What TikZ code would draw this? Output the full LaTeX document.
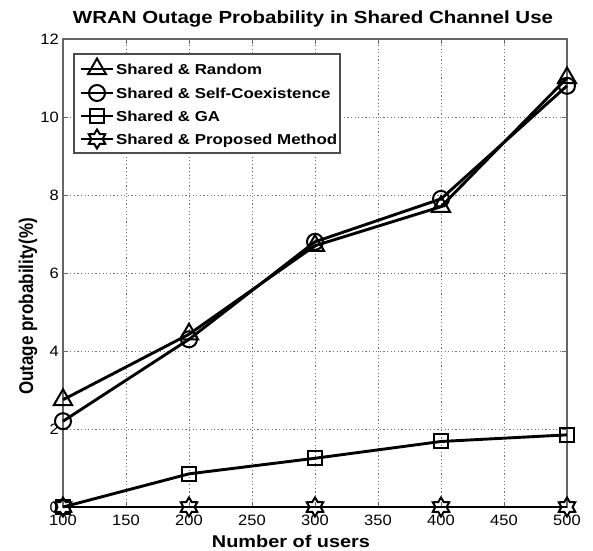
\documentclass[tikz,border=0pt]{standalone}
\usepackage{fontspec}
\usepackage{graphicx}
\setmainfont{Liberation Sans}
\usetikzlibrary{shapes.geometric}
\newcommand{\hsc}[2]{\scalebox{#1}[1]{#2}}
\newcommand{\vsc}[2]{\scalebox{1}[#1]{#2}}
\begin{document}
\begin{tikzpicture}[x=1pt,y=1pt,
  axisbox/.style={draw=black!60, line width=1.1pt},
  gridline/.style={draw=black!55, line width=0.9pt, dash pattern=on 1.2pt off 2.4pt},
  tickmark/.style={draw=black!60, line width=1pt},
  plotline/.style={draw=black, line width=2.9pt, line join=round},
  mk/.style={draw=black, line width=2pt, inner sep=0pt},
  tri/.style={mk, regular polygon, regular polygon sides=3, minimum size=21pt},
  circ/.style={mk, circle, minimum size=16pt},
  sq/.style={mk, rectangle, minimum size=14pt},
  hexa/.style={mk, star, star points=6, star point ratio=1.7, minimum size=19pt},
  ticklab/.style={font=\fontsize{15}{17}\selectfont, inner sep=0pt},
  titlefont/.style={font=\fontsize{17.5}{20}\selectfont\bfseries, inner sep=0pt},
  labfont/.style={font=\fontsize{17}{20}\selectfont\bfseries, inner sep=0pt},
  legtext/.style={font=\fontsize{14.4}{17}\selectfont\bfseries, inner sep=0pt, anchor=base west},
  legbox/.style={draw=black!70, fill=white, line width=1.1pt},
  legline/.style={draw=black, line width=2.9pt}
]
\useasboundingbox (0,0) rectangle (593,550);

% ---------- plot area in data coordinates ----------
\begin{scope}[shift={(-63pt,43pt)}, x=1.26pt, y=39pt]
  % grid
  \foreach \v in {150,200,...,450} \draw[gridline] (\v,0) -- (\v,12);
  \foreach \p in {2,4,...,10} \draw[gridline] (100,\p) -- (500,\p);
  % ticks
  \foreach \v in {100,150,...,500} {
    \draw[tickmark] (\v,0) -- ++(0,5pt);
    \draw[tickmark] (\v,12) -- ++(0,-5pt);
  }
  \foreach \p in {0,2,...,12} {
    \draw[tickmark] (100,\p) -- ++(5pt,0);
    \draw[tickmark] (500,\p) -- ++(-5pt,0);
  }
  % axes box
  \coordinate (ll) at (100,0);
  \coordinate (ur) at (500,12);
  \draw[axisbox] (ll) rectangle (ur);

  % data points
  \coordinate (r1) at (100,2.75); \coordinate (r2) at (200,4.43);
  \coordinate (r3) at (300,6.7);  \coordinate (r4) at (400,7.7);
  \coordinate (r5) at (500,11.0);
  \coordinate (s1) at (100,2.2);  \coordinate (s2) at (200,4.3);
  \coordinate (s3) at (300,6.8);  \coordinate (s4) at (400,7.9);
  \coordinate (s5) at (500,10.8);
  \coordinate (g1) at (100,0);    \coordinate (g2) at (200,0.85);
  \coordinate (g3) at (300,1.25); \coordinate (g4) at (400,1.68);
  \coordinate (g5) at (500,1.85);
  \coordinate (p1) at (100,0);    \coordinate (p2) at (200,0);
  \coordinate (p3) at (300,0);    \coordinate (p4) at (400,0);
  \coordinate (p5) at (500,0);

  \draw[plotline] (r1) -- (r2) -- (r3) -- (r4) -- (r5);
  \draw[plotline] (s1) -- (s2) -- (s3) -- (s4) -- (s5);
  \draw[plotline] (g1) -- (g2) -- (g3) -- (g4) -- (g5);
  \draw[plotline] (p1) -- (p2) -- (p3) -- (p4) -- (p5);

  \foreach \i in {1,...,5} {
    \node[tri]  (rm\i) at (r\i) {};
    \node[circ] (sm\i) at (s\i) {};
    \node[sq]   (gm\i) at (g\i) {};
    \node[hexa] (pm\i) at (p\i) {};
  }
\end{scope}

% ---------- tick labels ----------
\foreach \v/\xx in {100/63,150/126,200/189,250/252,300/315,350/378,400/441,450/504,500/567}
  \node[ticklab, anchor=base] (xl\v) at (\xx,25) {\hsc{1.1}{\v}};
\foreach \p/\yy in {0/43,2/121,4/199,6/277,8/355,10/433,12/511}
  \node[ticklab, anchor=east] (yl\p) at (59,\yy) {\hsc{1.1}{\p}};

% ---------- legend ----------
\coordinate (lbA) at (74,496);
\coordinate (lbB) at (340,397);
\draw[legbox] (lbA) rectangle (lbB);
\foreach \k/\yy/\st/\txt in {1/481/tri/{Shared \& Random},
                              2/457/circ/{Shared \& Self-Coexistence},
                              3/434/sq/{Shared \& GA},
                              4/411/hexa/{Shared \& Proposed Method}} {
  \coordinate (la\k) at (81,\yy);
  \coordinate (lb\k) at (113,\yy);
  \draw[legline] (la\k) -- (lb\k);
  \node[\st] (lm\k) at (97,\yy) {};
  \node[legtext] (lt\k) at (116,\yy-5.2) {\hsc{1.17}{\txt}};
}

% ---------- titles ----------
\node[titlefont, anchor=base] (title) at (313,526)
  {\hsc{1.17}{WRAN Outage Probability in Shared Channel Use}};
\node[labfont, anchor=base] (xlabel) at (291,3) {\hsc{1.17}{Number of users}};
\node[labfont, anchor=base west, rotate=90] (ylabel) at (33,155)
  {\vsc{1.17}{Outage probability(\%)}};
\end{tikzpicture}
\end{document}
